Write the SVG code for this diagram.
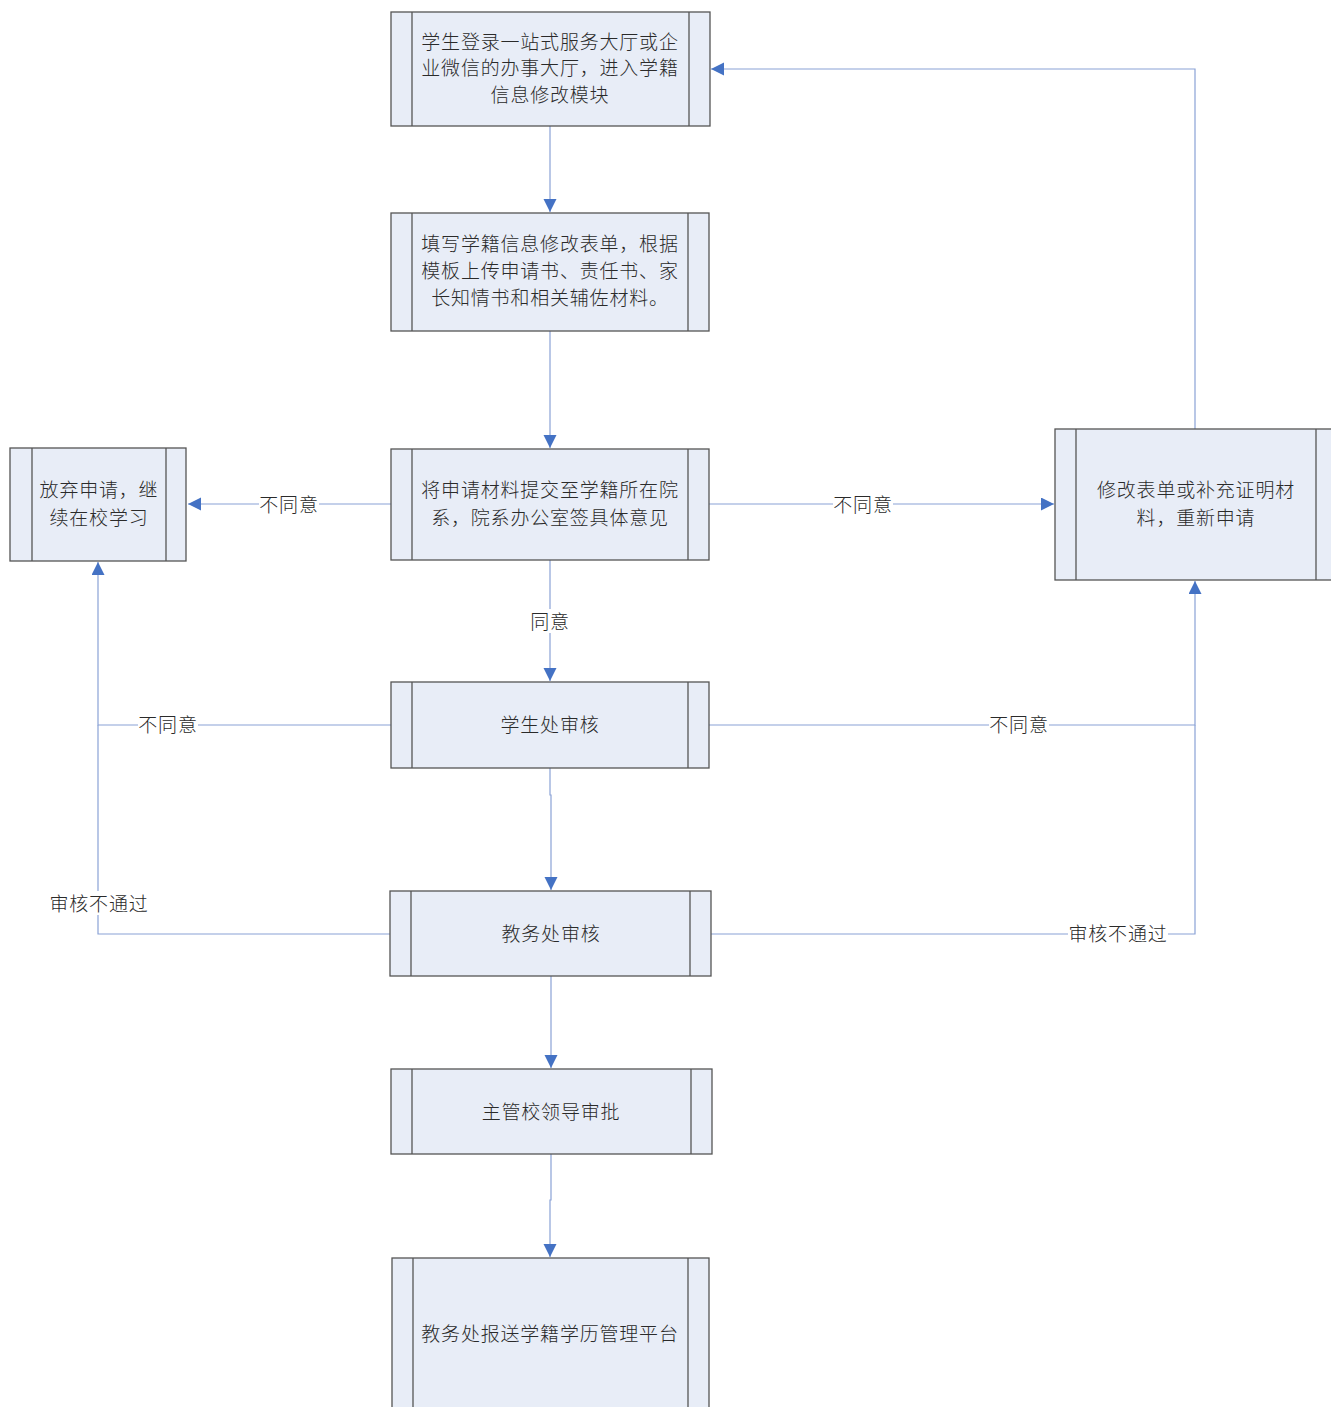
<svg xmlns="http://www.w3.org/2000/svg" width="1331" height="1407" viewBox="0 0 1331 1407">
<defs>
<marker id="arr" markerWidth="14" markerHeight="14" refX="13" refY="6.5" orient="auto" markerUnits="userSpaceOnUse">
<path d="M0,0 L13,6.5 L0,13 Z" fill="#4472c4"/>
</marker>
<style>
.box{fill:#e8edf7;stroke:#555;stroke-width:1.3}
.in{stroke:#555;stroke-width:1.3}
.t{font-family:"Noto Sans CJK SC","Liberation Sans",sans-serif;font-size:19px;letter-spacing:0.8px;font-weight:300;fill:#2a2a2a;text-anchor:middle;dominant-baseline:central}
.c{fill:none;stroke:#8aa2d6;stroke-width:1.2}
.lb{fill:#fff}
</style>
</defs>
<rect width="1331" height="1407" fill="#fff"/>
<g id="connectors">
<path class="c" d="M550,126 V212" marker-end="url(#arr)"/>
<path class="c" d="M550,331 V448" marker-end="url(#arr)"/>
<path class="c" d="M391,504 H188" marker-end="url(#arr)"/>
<path class="c" d="M709,504 H1054" marker-end="url(#arr)"/>
<path class="c" d="M550,560 V681" marker-end="url(#arr)"/>
<path class="c" d="M391,725 H98 V562" marker-end="url(#arr)"/>
<path class="c" d="M709,725 H1195 V581" marker-end="url(#arr)"/>
<path class="c" d="M550,768 V795 H551 V890" marker-end="url(#arr)"/>
<path class="c" d="M390,934 H98 V725"/>
<path class="c" d="M711,934 H1195 V725"/>
<path class="c" d="M551,976 V1068" marker-end="url(#arr)"/>
<path class="c" d="M551,1154 V1200 H550 V1257" marker-end="url(#arr)"/>
<path class="c" d="M1195,429 V69 H711" marker-end="url(#arr)"/>
<rect class="lb" x="259" y="492" width="60" height="24"/>
<text class="t" x="289" y="503">不同意</text>
<rect class="lb" x="833" y="492" width="60" height="24"/>
<text class="t" x="863" y="503">不同意</text>
<rect class="lb" x="528" y="609" width="44" height="24"/>
<text class="t" x="550" y="620">同意</text>
<rect class="lb" x="138" y="713" width="60" height="24"/>
<text class="t" x="168" y="723">不同意</text>
<rect class="lb" x="989" y="713" width="60" height="24"/>
<text class="t" x="1019" y="723">不同意</text>
<rect class="lb" x="49" y="891" width="100" height="24"/>
<text class="t" x="99" y="902">审核不通过</text>
<rect class="lb" x="1068" y="921" width="100" height="24"/>
<text class="t" x="1118" y="932">审核不通过</text>
</g>
<g id="n1">
<rect class="box" x="391" y="12" width="319" height="114"/>
<line class="in" x1="412" y1="12" x2="412" y2="126"/><line class="in" x1="689" y1="12" x2="689" y2="126"/>
<text class="t" x="550" y="40">学生登录一站式服务大厅或企</text>
<text class="t" x="550" y="66.5">业微信的办事大厅，进入学籍</text>
<text class="t" x="550" y="93">信息修改模块</text>
</g>
<g id="n2">
<rect class="box" x="391" y="213" width="318" height="118"/>
<line class="in" x1="412" y1="213" x2="412" y2="331"/><line class="in" x1="688" y1="213" x2="688" y2="331"/>
<text class="t" x="550" y="242">填写学籍信息修改表单，根据</text>
<text class="t" x="550" y="269">模板上传申请书、责任书、家</text>
<text class="t" x="550" y="296">长知情书和相关辅佐材料。</text>
</g>
<g id="n3">
<rect class="box" x="391" y="449" width="318" height="111"/>
<line class="in" x1="412" y1="449" x2="412" y2="560"/><line class="in" x1="688" y1="449" x2="688" y2="560"/>
<text class="t" x="550" y="488">将申请材料提交至学籍所在院</text>
<text class="t" x="550" y="516">系，院系办公室签具体意见</text>
</g>
<g id="nL">
<rect class="box" x="10" y="448" width="176" height="113"/>
<line class="in" x1="32" y1="448" x2="32" y2="561"/><line class="in" x1="166" y1="448" x2="166" y2="561"/>
<text class="t" x="99" y="488">放弃申请，继</text>
<text class="t" x="99" y="516">续在校学习</text>
</g>
<g id="nR">
<rect class="box" x="1055" y="429" width="282" height="151"/>
<line class="in" x1="1076" y1="429" x2="1076" y2="580"/><line class="in" x1="1316" y1="429" x2="1316" y2="580"/>
<text class="t" x="1196" y="488">修改表单或补充证明材</text>
<text class="t" x="1196" y="516">料，重新申请</text>
</g>
<g id="n4">
<rect class="box" x="391" y="682" width="318" height="86"/>
<line class="in" x1="412" y1="682" x2="412" y2="768"/><line class="in" x1="688" y1="682" x2="688" y2="768"/>
<text class="t" x="550" y="723">学生处审核</text>
</g>
<g id="n5">
<rect class="box" x="390" y="891" width="321" height="85"/>
<line class="in" x1="411" y1="891" x2="411" y2="976"/><line class="in" x1="690" y1="891" x2="690" y2="976"/>
<text class="t" x="551" y="932">教务处审核</text>
</g>
<g id="n6">
<rect class="box" x="391" y="1069" width="321" height="85"/>
<line class="in" x1="412" y1="1069" x2="412" y2="1154"/><line class="in" x1="691" y1="1069" x2="691" y2="1154"/>
<text class="t" x="551" y="1110">主管校领导审批</text>
</g>
<g id="n7">
<rect class="box" x="392" y="1258" width="317" height="160"/>
<line class="in" x1="413" y1="1258" x2="413" y2="1418"/><line class="in" x1="688" y1="1258" x2="688" y2="1418"/>
<text class="t" x="550" y="1332">教务处报送学籍学历管理平台</text>
</g>
</svg>
